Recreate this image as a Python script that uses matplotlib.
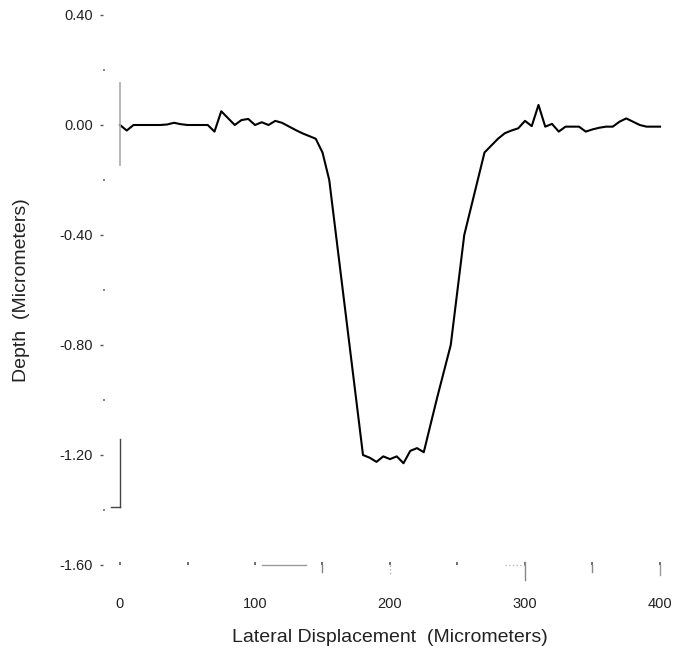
import matplotlib
matplotlib.use("Agg")
import matplotlib.pyplot as plt
import numpy as np

plt.rcParams['font.family'] = ['Liberation Sans', 'DejaVu Sans']

# lateral position (micrometers), one sample every 5 um
lateral = list(range(0, 405, 5))
depth = [0.0, -0.02, 0.0, 0.0, 0.0, 0.0, 0.0, 0.002, 0.008, 0.003,
         0.0, 0.0, 0.0, 0.0, -0.024, 0.05, 0.025, 0.0, 0.018, 0.022,
         0.0, 0.01, 0.0, 0.015, 0.008, -0.005, -0.018, -0.03, -0.04, -0.05,
         -0.10, -0.20, -0.40, -0.60, -0.80, -1.00, -1.20, -1.21, -1.225, -1.205,
         -1.215, -1.205, -1.23, -1.185, -1.175, -1.19, -1.09, -0.99, -0.895, -0.80,
         -0.60, -0.40, -0.30, -0.20, -0.10, -0.075, -0.05, -0.03, -0.02, -0.012,
         0.015, -0.004, 0.073, -0.006, 0.004, -0.024, -0.006, -0.006, -0.006, -0.024,
         -0.016, -0.01, -0.006, -0.006, 0.012, 0.024, 0.012, 0.0, -0.006, -0.006,
         -0.006]

xticks = [0, 100, 200, 300, 400]
xminor = [50, 150, 250, 350]
yticks = [0.40, 0.00, -0.40, -0.80, -1.20, -1.60]
yminor = [0.20, -0.20, -0.60, -1.00, -1.40]

fig = plt.figure(figsize=(6.77, 6.52), dpi=100)
ax = fig.add_axes([120 / 677, 1 - 565 / 652, 540 / 677, 550 / 652])

ax.plot(lateral, depth, color='black', lw=1.5, clip_on=False)

ax.set_xlim(0, 400)
ax.set_ylim(-1.6, 0.4)

for s in ax.spines.values():
    s.set_color('none')
ax.spines['left'].set_position(('outward', 12))

ax.set_xticks(xticks)
ax.set_xticks(xminor, minor=True)
ax.set_yticks(yticks)
ax.set_yticks(yminor, minor=True)
ax.set_yticklabels([f"{v:.2f}" for v in yticks])
ax.set_xticklabels([str(v) for v in xticks])

ax.tick_params(axis='y', which='major', direction='out', length=2, width=1,
               color='#555555', pad=5.5, labelsize=10.5, labelcolor='#222222')
ax.tick_params(axis='y', which='minor', direction='in', length=1.5, width=1.3,
               color='#777777')
ax.tick_params(axis='x', which='major', direction='in', length=2, width=1.2,
               color='#555555', pad=23, labelsize=10.5, labelcolor='#222222')
ax.tick_params(axis='x', which='minor', direction='in', length=2, width=1.2,
               color='#555555')

# leftover fragments of the original axis lines
ax.plot([0, 0], [0.153, -0.145], color='#aaaaaa', lw=1.2, clip_on=False)
ax.plot([0, 0], [-1.14, -1.39], color='#444444', lw=1.0, clip_on=False)
ax.plot([-7, 0], [-1.39, -1.39], color='#444444', lw=1.0, clip_on=False)
ax.plot([105, 138], [-1.6, -1.6], color='#999999', lw=1.0, clip_on=False)
ax.plot([285, 300], [-1.6, -1.6], color='#bbbbbb', lw=1.0, ls=':', clip_on=False)
ax.plot([300, 300], [-1.59, -1.655], color='#888888', lw=1.0, clip_on=False)
ax.plot([200, 200], [-1.6, -1.64], color='#aaaaaa', lw=1.0, ls=':', clip_on=False)
ax.plot([150, 150], [-1.6, -1.625], color='#888888', lw=1.0, clip_on=False)
ax.plot([350, 350], [-1.6, -1.625], color='#888888', lw=1.0, clip_on=False)
ax.plot([400, 400], [-1.6, -1.635], color='#999999', lw=1.0, clip_on=False)

ax.set_ylabel("Depth  (Micrometers)", fontsize=14, color='#222222', labelpad=21)
ax.set_xlabel("Lateral Displacement  (Micrometers)", fontsize=14, color='#222222',
              labelpad=13)

fig.savefig("out.png", dpi=100)
